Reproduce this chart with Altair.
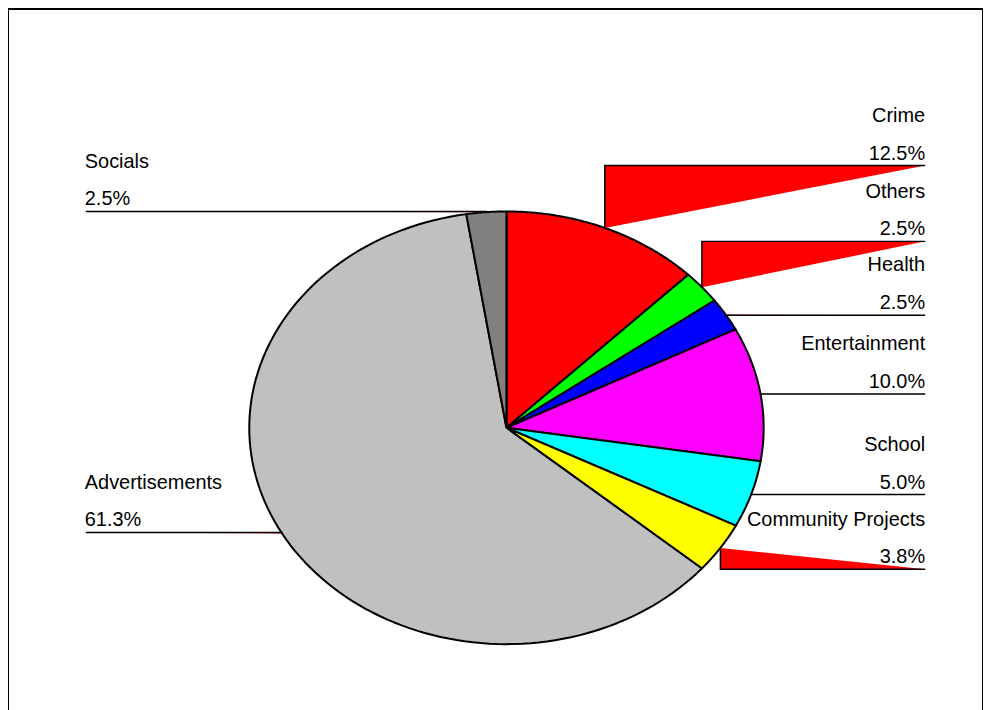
import altair as alt
import pandas as pd

# ---- data ----
categories = ["Crime", "Others", "Health", "Entertainment", "School",
              "Community Projects", "Advertisements", "Socials"]
percent = [12.5, 2.5, 2.5, 10.0, 5.0, 3.8, 61.3, 2.5]
colors = ["#FF0000", "#00FF00", "#0000FF", "#FF00FF", "#00FFFF",
          "#FFFF00", "#C0C0C0", "#808080"]

# ---- layout (not data) ----
label_side = ["R", "R", "R", "R", "R", "R", "L", "L"]
label_line_y = [165, 241, 315, 394, 495, 570, 533, 211]   # page pixels

W, H = 978, 710
CX, CY, RX, RY = 500, 420, 258, 217    # ellipse centre / radii in plot pixels
RIGHT_END, LEFT_END = 920, 78
N = 120

df = pd.DataFrame({
    "cat": categories,
    "pct": percent,
    "i": list(range(len(categories))),
    "side": label_side,
    "ly": [y - 8 for y in label_line_y],
})

xs = alt.Scale(domain=[0, W], nice=False, zero=False)
ys = alt.Scale(domain=[0, H], nice=False, zero=False, reverse=True)

base = alt.Chart(df).transform_window(
    cum="sum(pct)", sort=[alt.SortField("i")], frame=[None, 0]
).transform_joinaggregate(total="sum(pct)")

center = f"(datum.k == 0 || datum.k == {N + 2})"
wedges = base.transform_calculate(
    k=f"sequence(0, {N + 3})"
).transform_flatten(["k"]).transform_calculate(
    a=f"2*PI*((datum.cum - datum.pct) + datum.pct*clamp((datum.k-1)/{N}, 0, 1))/datum.total"
).transform_calculate(
    px=f"{center} ? {CX} : {CX} + {RX}*sin(datum.a)",
    py=f"{center} ? {CY} : {CY} - {RY}*cos(datum.a)",
).mark_line(strokeWidth=2, strokeJoin="round").encode(
    x=alt.X("px:Q", scale=xs, axis=None),
    y=alt.Y("py:Q", scale=ys, axis=None),
    detail="cat:N",
    order=alt.Order("k:Q"),
    fill=alt.Fill("cat:N", scale=alt.Scale(domain=categories, range=colors), legend=None),
    stroke=alt.value("black"),
)

leaders = base.transform_calculate(
    ma="2*PI*(datum.cum - datum.pct/2)/datum.total",
    k="sequence(0, 3)",
).transform_flatten(["k"]).transform_calculate(
    px=f"datum.k == 2 ? (datum.side == 'R' ? {RIGHT_END} : {LEFT_END}) : {CX} + {RX}*sin(datum.ma)",
    py=f"datum.k == 0 ? {CY} - {RY}*cos(datum.ma) : datum.ly",
).mark_line(strokeWidth=1.5).encode(
    x=alt.X("px:Q", scale=xs, axis=None),
    y=alt.Y("py:Q", scale=ys, axis=None),
    detail="cat:N",
    order=alt.Order("k:Q"),
    fill=alt.value("#FF0000"),
    stroke=alt.value("black"),
)


def labels(side, align, xpos):
    b = alt.Chart(df).transform_filter(f"datum.side == '{side}'").transform_calculate(
        tx=str(xpos),
        ny="datum.ly - 44",
        py2="datum.ly - 6",
        ptxt="format(datum.pct, '.1f') + '%'",
    )
    common = dict(align=align, baseline="alphabetic", font="Liberation Sans",
                  fontSize=20, color="black")
    name = b.mark_text(**common).encode(
        x=alt.X("tx:Q", scale=xs, axis=None),
        y=alt.Y("ny:Q", scale=ys, axis=None),
        text="cat:N",
    )
    pc = b.mark_text(**common).encode(
        x=alt.X("tx:Q", scale=xs, axis=None),
        y=alt.Y("py2:Q", scale=ys, axis=None),
        text="ptxt:N",
    )
    return name + pc


chart = alt.layer(
    wedges, leaders, labels("R", "right", 920), labels("L", "left", 77)
).properties(
    width=W, height=H, padding=0, autosize=alt.AutoSizeParams(type="none"),
    background="white",
).configure_view(stroke="black", strokeWidth=2)

chart.save("out.html", embed_options={"renderer": "svg", "actions": False})
